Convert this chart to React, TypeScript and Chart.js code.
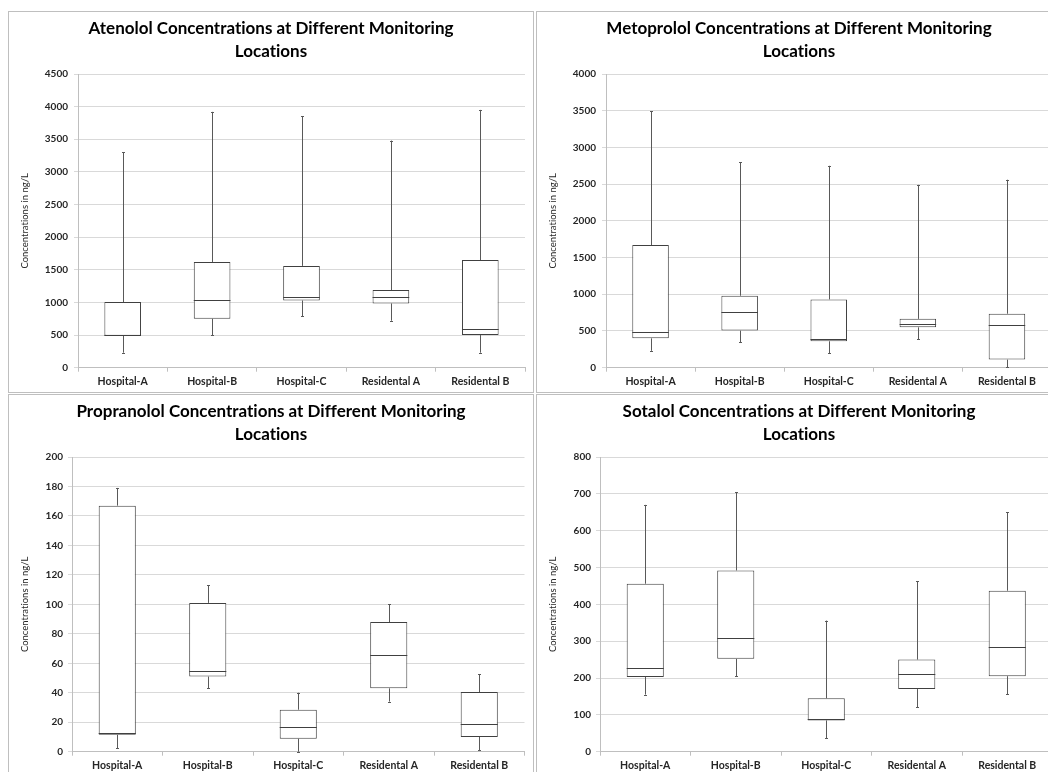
import React, { useEffect, useRef } from "react";
import { Chart, registerables } from "chart.js";

Chart.register(...registerables);

// ---------- data ----------
const categories = ["Hospital-A", "Hospital-B", "Hospital-C", "Residental A", "Residental B"];
const yAxisTitle = "Concentrations in ng/L";

const atenololTitle = ["Atenolol Concentrations at Different Monitoring", "Locations"];
const atenololMin = [230, 500, 790, 720, 230];
const atenololQ1 = [490, 750, 1030, 985, 500];
const atenololMedian = [500, 1030, 1080, 1090, 600];
const atenololQ3 = [1005, 1620, 1560, 1190, 1650];
const atenololMax = [3300, 3920, 3850, 3480, 3950];
const atenololTicks = { max: 4500, step: 500 };

const metoprololTitle = ["Metoprolol Concentrations at Different Monitoring", "Locations"];
const metoprololMin = [230, 345, 195, 390, 5];
const metoprololQ1 = [400, 505, 360, 550, 110];
const metoprololMedian = [490, 760, 390, 600, 585];
const metoprololQ3 = [1670, 980, 930, 665, 735];
const metoprololMax = [3490, 2800, 2750, 2490, 2560];
const metoprololTicks = { max: 4000, step: 500 };

const propranololTitle = ["Propranolol Concentrations at Different Monitoring", "Locations"];
const propranololMin = [2.5, 43, 0, 34, 1];
const propranololQ1 = [11.5, 51, 8.8, 43, 10];
const propranololMedian = [12.5, 54.5, 16.5, 65.5, 18.5];
const propranololQ3 = [167, 101, 28.5, 88, 40.5];
const propranololMax = [179, 113, 40, 100, 52.5];
const propranololTicks = { max: 200, step: 20 };

const sotalolTitle = ["Sotalol Concentrations at Different Monitoring", "Locations"];
const sotalolMin = [155, 205, 37, 120, 156];
const sotalolQ1 = [203, 252, 85, 170, 205];
const sotalolMedian = [228, 310, 90, 210, 283];
const sotalolQ3 = [456, 492, 145, 250, 437];
const sotalolMax = [670, 705, 356, 463, 650];
const sotalolTicks = { max: 800, step: 100 };

// ---------- styling ----------
const FONT = "Lato, 'Open Sans', sans-serif";
const BOX_COLOR = "#404040";
const WHISKER_COLOR = "#595959";
const GRID_COLOR = "#d9d9d9";
const AXIS_COLOR = "#bfbfbf";
const PANEL_BORDER = "#bfbfbf";

type Geometry = {
  left: number;
  top: number;
  width: number;
  height: number;
  sidePad: number;
  yWidth: number;
  xHeight: number;
  yTitlePad: number;
  yTickPad: number;
  xTickPad: number;
};

type PanelProps = {
  title: string[];
  min: number[];
  q1: number[];
  median: number[];
  q3: number[];
  max: number[];
  ticks: { max: number; step: number };
  geo: Geometry;
};

const noLigaturePlugin = {
  id: "noLigatures",
  beforeDraw(chart: any) {
    const ctx = chart.ctx as any;
    ctx.textRendering = "optimizeSpeed";
  },
};

function makeWhiskerPlugin(min: number[], median: number[], max: number[], q1: number[], q3: number[]) {
  return {
    id: "boxWhiskers",
    afterDatasetsDraw(chart: any) {
      const ctx = chart.ctx;
      const y = chart.scales.y;
      const meta = chart.getDatasetMeta(0);
      ctx.save();
      ctx.lineWidth = 1;
      meta.data.forEach((bar: any, i: number) => {
        const x = Math.round(bar.x) + 0.5;
        const half = bar.width / 2;
        const pMin = y.getPixelForValue(min[i]);
        const pQ1 = y.getPixelForValue(q1[i]);
        const pQ3 = y.getPixelForValue(q3[i]);
        const pMax = y.getPixelForValue(max[i]);
        const pMed = Math.round(y.getPixelForValue(median[i])) + 0.5;
        ctx.strokeStyle = WHISKER_COLOR;
        ctx.beginPath();
        ctx.moveTo(x, pMax);
        ctx.lineTo(x, pQ3);
        ctx.moveTo(x, pQ1);
        ctx.lineTo(x, pMin);
        const cMax = Math.round(pMax) + 0.5;
        const cMin = Math.round(pMin) + 0.5;
        ctx.moveTo(x - 1.5, cMax);
        ctx.lineTo(x + 1.5, cMax);
        ctx.moveTo(x - 1.5, cMin);
        ctx.lineTo(x + 1.5, cMin);
        ctx.stroke();
        ctx.strokeStyle = BOX_COLOR;
        ctx.beginPath();
        ctx.moveTo(bar.x - half, pMed);
        ctx.lineTo(bar.x + half, pMed);
        ctx.stroke();
      });
      ctx.restore();
    },
  };
}

function Panel({ title, min, q1, median, q3, max, ticks, geo }: PanelProps) {
  const ref = useRef<HTMLCanvasElement | null>(null);
  useEffect(() => {
    if (!ref.current) return;
    const yTickFont = { family: FONT, size: 10, weight: "bold" as const };
    const xTickFont = { family: FONT, size: 10.5, weight: "bold" as const };
    const chart = new Chart(ref.current, {
      type: "bar",
      data: {
        labels: categories,
        datasets: [
          {
            data: q1.map((v, i) => [v, q3[i]]) as any,
            backgroundColor: "#ffffff",
            borderColor: BOX_COLOR,
            borderWidth: 1,
            borderSkipped: false,
            barPercentage: 0.41,
            categoryPercentage: 1,
          },
        ],
      },
      options: {
        responsive: false,
        animation: false,
        devicePixelRatio: 1,
        layout: { padding: { left: geo.sidePad, right: geo.sidePad, top: 0, bottom: 0 } },
        plugins: {
          legend: { display: false },
          tooltip: { enabled: false },
          title: {
            display: true,
            text: title,
            color: "#000000",
            font: { family: FONT, size: 17, weight: "bold", lineHeight: "23px" as any },
            padding: { top: 5.5, bottom: 10.5 },
          },
        },
        scales: {
          x: {
            type: "category",
            offset: true,
            grid: {
              display: true,
              drawOnChartArea: false,
              drawTicks: true,
              tickLength: 4,
              color: AXIS_COLOR,
              offset: true,
            },
            border: { color: AXIS_COLOR },
            ticks: {
              font: xTickFont,
              color: "#262626",
              padding: geo.xTickPad,
              maxRotation: 0,
              autoSkip: false,
            },
            afterFit: (s: any) => {
              s.height = geo.xHeight;
            },
          },
          y: {
            min: 0,
            max: ticks.max,
            ticks: {
              stepSize: ticks.step,
              font: yTickFont,
              color: "#262626",
              padding: geo.yTickPad,
              callback: (v: any) => String(v),
            },
            grid: { color: GRID_COLOR, tickLength: 4 },
            border: { color: AXIS_COLOR },
            title: {
              display: true,
              text: yAxisTitle,
              color: "#262626",
              font: { family: FONT, size: 9.5, weight: "normal" },
              padding: { top: geo.yTitlePad, bottom: 0 },
            },
            afterFit: (s: any) => {
              s.width = geo.yWidth;
            },
          },
        },
      },
      plugins: [noLigaturePlugin, makeWhiskerPlugin(min, median, max, q1, q3)],
    });
    return () => chart.destroy();
  }, []);
  return (
    <div
      style={{
        position: "absolute",
        left: geo.left,
        top: geo.top,
        width: geo.width,
        height: geo.height,
        border: `1px solid ${PANEL_BORDER}`,
        boxSizing: "border-box",
        background: "#fff",
      }}
    >
      <canvas
        ref={ref}
        width={geo.width - 2}
        height={geo.height - 2}
        style={{ position: "absolute", left: 0, top: 0, width: geo.width - 2, height: geo.height - 2 }}
      />
    </div>
  );
}

const geoTL: Geometry = { left: 8, top: 11, width: 526, height: 382, sidePad: 8, yWidth: 61, xHeight: 24.3, yTitlePad: 2.3, yTickPad: 6, xTickPad: 4 };
const geoTR: Geometry = { left: 536, top: 11, width: 526, height: 382, sidePad: 9.5, yWidth: 59.5, xHeight: 24.3, yTitlePad: 0.5, yTickPad: 6, xTickPad: 4 };
const geoBL: Geometry = { left: 8, top: 394, width: 526, height: 382, sidePad: 8.5, yWidth: 54.5, xHeight: 23.3, yTitlePad: 1.8, yTickPad: 5, xTickPad: 3.5 };
const geoBR: Geometry = { left: 536, top: 394, width: 526, height: 382, sidePad: 8.5, yWidth: 54.5, xHeight: 23.3, yTitlePad: 1.8, yTickPad: 5, xTickPad: 3.5 };

export default function App() {
  return (
    <div style={{ position: "fixed", left: 0, top: 0, width: 1048, height: 772, overflow: "hidden", background: "#fff" }}>
      <Panel title={atenololTitle} min={atenololMin} q1={atenololQ1} median={atenololMedian} q3={atenololQ3} max={atenololMax} ticks={atenololTicks} geo={geoTL} />
      <Panel title={metoprololTitle} min={metoprololMin} q1={metoprololQ1} median={metoprololMedian} q3={metoprololQ3} max={metoprololMax} ticks={metoprololTicks} geo={geoTR} />
      <Panel title={propranololTitle} min={propranololMin} q1={propranololQ1} median={propranololMedian} q3={propranololQ3} max={propranololMax} ticks={propranololTicks} geo={geoBL} />
      <Panel title={sotalolTitle} min={sotalolMin} q1={sotalolQ1} median={sotalolMedian} q3={sotalolQ3} max={sotalolMax} ticks={sotalolTicks} geo={geoBR} />
    </div>
  );
}
